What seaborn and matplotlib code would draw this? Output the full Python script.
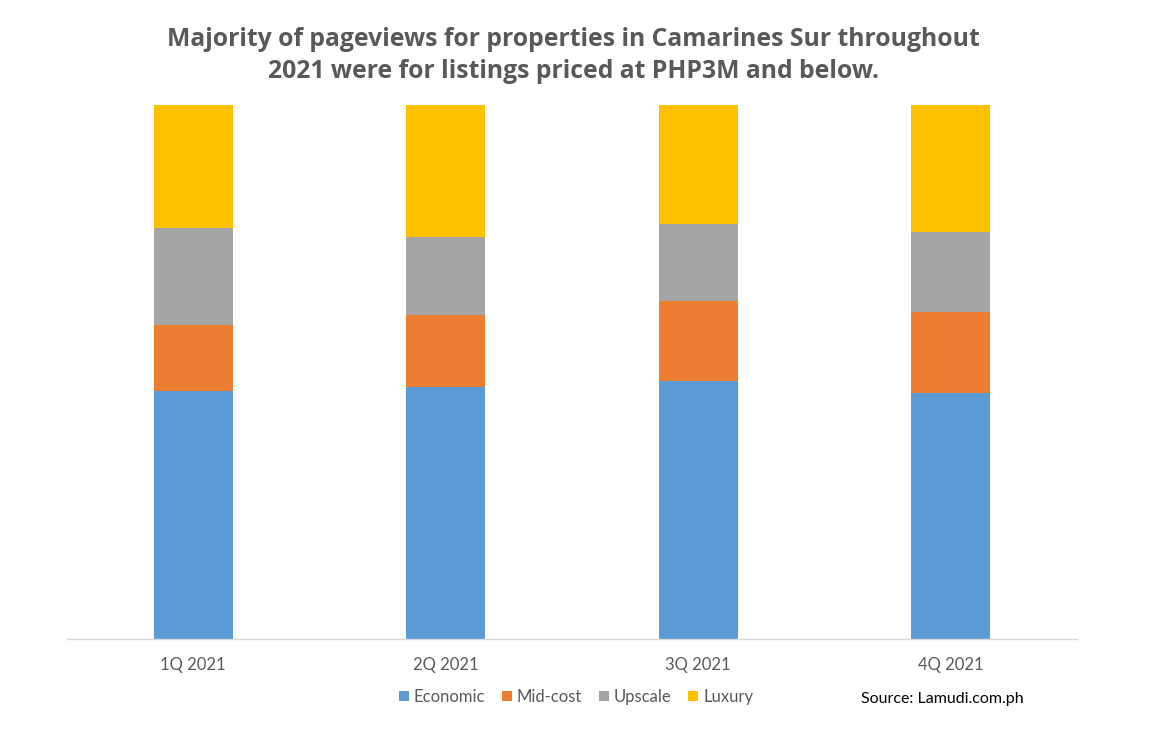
import matplotlib
matplotlib.use("Agg")
import matplotlib.pyplot as plt
from matplotlib.patches import Patch
import seaborn as sns
import pandas as pd

# data (share of pageviews, %)
quarters = ["1Q 2021", "2Q 2021", "3Q 2021", "4Q 2021"]
segments = ["Economic", "Mid-cost", "Upscale", "Luxury"]
economic = [46.4, 47.2, 48.3, 46.1]
mid_cost = [12.4, 13.5, 15.0, 15.2]
upscale = [18.2, 14.5, 14.4, 15.0]
luxury = [23.0, 24.8, 22.3, 23.7]
colors = ["#5B9BD5", "#ED7D31", "#A5A5A5", "#FFC000"]

sns.set_theme(style="white")
plt.rcParams["font.family"] = ["Lato", "DejaVu Sans"]

df = pd.DataFrame({"quarter": quarters, "Economic": economic, "Mid-cost": mid_cost,
                   "Upscale": upscale, "Luxury": luxury})
cum = df[segments].cumsum(axis=1)
cum["quarter"] = df["quarter"]

fig = plt.figure(figsize=(11.7, 7.37), dpi=100)
ax = fig.add_axes([67 / 1170, 1 - 639 / 737, 1010 / 1170, 534 / 737])

# draw from the tallest cumulative layer down so each segment shows
for seg, col in reversed(list(zip(segments, colors))):
    sns.barplot(data=cum, x="quarter", y=seg, color=col, width=0.313,
                saturation=1, ax=ax, linewidth=0)

ax.set_xlim(-0.5, 3.5)
ax.set_ylim(0, 100)
ax.set_xlabel("")
ax.set_ylabel("")
ax.set_yticks([])
for s in ["top", "right", "left"]:
    ax.spines[s].set_visible(False)
ax.spines["bottom"].set_color("#D9D9D9")
ax.spines["bottom"].set_linewidth(1)
ax.tick_params(axis="x", length=0, pad=13, labelsize=12, labelcolor="#595959")

title_font = ["Open Sans", "DejaVu Sans"]
fig.text(573 / 1170, 1 - 40 / 737, "Majority of pageviews for properties in Camarines Sur throughout",
         ha="center", va="center", fontsize=17.8, fontweight="bold", color="#595959",
         family=title_font)
fig.text(573 / 1170, 1 - 72 / 737, "2021 were for listings priced at PHP3M and below.",
         ha="center", va="center", fontsize=17.8, fontweight="bold", color="#595959",
         family=title_font)

handles = [Patch(facecolor=c, edgecolor="none", label=s) for s, c in zip(segments, colors)]
fig.legend(handles=handles, loc="center", bbox_to_anchor=(576 / 1170, 1 - 697 / 737),
           ncol=4, frameon=False, fontsize=12, handlelength=0.6, handleheight=0.6,
           handletextpad=0.3, columnspacing=1.0, labelcolor="#595959")

fig.text(861 / 1170, 1 - 699 / 737, "Source: Lamudi.com.ph", ha="left", va="center",
         fontsize=11.5, color="#000000")

fig.savefig("out.png", dpi=100)
